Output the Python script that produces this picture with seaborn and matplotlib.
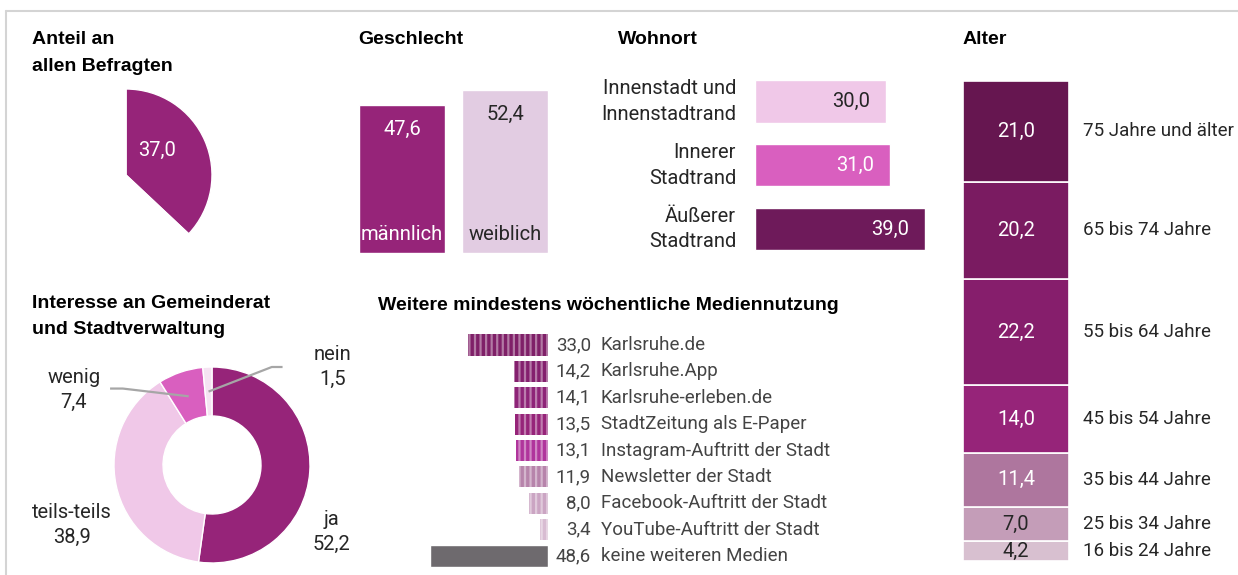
import numpy as np
import matplotlib
matplotlib.use('Agg')
import matplotlib.pyplot as plt
from matplotlib.lines import Line2D
import seaborn as sns

# ---- data ----
anteil = 37.0

geschlecht = ['männlich', 'weiblich']
geschlecht_werte = [47.6, 52.4]

wohnort = ['Innenstadt und\nInnenstadtrand', 'Innerer\nStadtrand', 'Äußerer\nStadtrand']
wohnort_werte = [30.0, 31.0, 39.0]

# from bottom to top of the stack
alter = ['16 bis 24 Jahre', '25 bis 34 Jahre', '35 bis 44 Jahre', '45 bis 54 Jahre',
         '55 bis 64 Jahre', '65 bis 74 Jahre', '75 Jahre und älter']
alter_werte = [4.2, 7.0, 11.4, 14.0, 22.2, 20.2, 21.0]

interesse = ['ja', 'teils-teils', 'wenig', 'nein']
interesse_werte = [52.2, 38.9, 7.4, 1.5]

medien = ['Karlsruhe.de', 'Karlsruhe.App', 'Karlsruhe-erleben.de', 'StadtZeitung als E-Paper',
          'Instagram-Auftritt der Stadt', 'Newsletter der Stadt', 'Facebook-Auftritt der Stadt',
          'YouTube-Auftritt der Stadt', 'keine weiteren Medien']
medien_werte = [33.0, 14.2, 14.1, 13.5, 13.1, 11.9, 8.0, 3.4, 48.6]

# ---- colours ----
lila = '#962479'
c_geschlecht = [lila, '#E2CCE2']
c_wohnort = ['#F0C8E8', '#D95FBF', '#6E1A5A']
c_alter = ['#D8C0D0', '#C49DB8', '#AE769E', '#962479', '#861E6C', '#7A1B61', '#661650']
c_interesse = [lila, '#F0C8E8', '#D95FBF', '#F5E3F2']
c_medien = ['#7F2068', '#84206E', '#8E2478', '#962479', '#B0359C', '#B784AB', '#CBA5C3',
            '#D8BCD2', '#6E6A6E']

sns.set_theme(style='white')
plt.rcParams['font.family'] = ['Roboto', 'DejaVu Sans']
plt.rcParams['hatch.linewidth'] = 1.6

TXT = '#262626'
FS = 14.5      # labels with room
FS_S = 13.5    # Alter and Medien labels
TFS = 14
bold = dict(family=['Liberation Sans', 'DejaVu Sans'], fontweight='bold', fontsize=TFS, color='black')

def fmt(v):
    return f'{v:.1f}'.replace('.', ',')

W, H = 1238, 575
fig = plt.figure(figsize=(W / 100, H / 100), dpi=100)

def px_axes(x0, y0, x1, y1):
    ax = fig.add_axes([x0 / W, 1 - y1 / H, (x1 - x0) / W, (y1 - y0) / H])
    ax.set_axis_off()
    return ax

def title(x, y, s):
    fig.text(x / W, 1 - y / H, s, va='center', ha='left', **bold)

# frame
fig.add_artist(Line2D([6 / W, 1], [1 - 11 / H] * 2, color='#d4d4d4', lw=1.5))
fig.add_artist(Line2D([6 / W] * 2, [0, 1 - 11 / H], color='#d4d4d4', lw=1.5))

# titles
title(32, 40, 'Anteil an')
title(32, 67, 'allen Befragten')
title(358, 40, 'Geschlecht')
title(618, 40, 'Wohnort')
title(963, 40, 'Alter')
title(32, 303, 'Interesse an Gemeinderat')
title(32, 330, 'und Stadtverwaltung')
title(378, 305, 'Weitere mindestens wöchentliche Mediennutzung')

# ---- Anteil an allen Befragten ----
ax = px_axes(40, 89, 212, 261)
ax.pie([anteil, 100 - anteil], colors=[lila, 'none'], startangle=90, counterclock=False)
ax.set_xlim(-1, 1)
ax.set_ylim(-1, 1)
ax.text(0.36, 0.29, fmt(anteil), color='white', fontsize=FS, ha='center', va='center')

# ---- Geschlecht ----
ax = px_axes(350.5, 90, 556.5, 253)
sns.barplot(x=geschlecht, y=geschlecht_werte, hue=geschlecht, palette=c_geschlecht,
            legend=False, width=0.835, saturation=1, ax=ax)
ax.set_ylim(0, max(geschlecht_werte))
ax.set_xlim(-0.5, 1.5)
ax.set_axis_off()
for i, (g, v) in enumerate(zip(geschlecht, geschlecht_werte)):
    col = 'white' if i == 0 else TXT
    ax.annotate(fmt(v), (i, v), xytext=(0, -24), textcoords='offset pixels',
                ha='center', va='center', color=col, fontsize=FS)
    ax.annotate(g, (i, 0), xytext=(0, 18), textcoords='offset pixels',
                ha='center', va='center', color=col, fontsize=FS)

# ---- Wohnort ----
ax = px_axes(755, 69.6, 925, 260.9)
sns.barplot(x=wohnort_werte, y=wohnort, hue=wohnort, palette=c_wohnort, orient='h',
            legend=False, width=0.66, saturation=1, ax=ax)
ax.set_xlim(0, max(wohnort_werte))
ax.set_ylim(2.5, -0.5)
ax.set_axis_off()
for i, (w, v) in enumerate(zip(wohnort, wohnort_werte)):
    ax.annotate(w, (0, i), xytext=(-19, 0), textcoords='offset pixels', ha='right',
                va='center', color=TXT, fontsize=FS, linespacing=1.45)
    ax.annotate(fmt(v), (v, i), xytext=(-16, 0), textcoords='offset pixels', ha='right',
                va='center', color=TXT if i == 0 else 'white', fontsize=FS)

# ---- Alter ----
ax = px_axes(963, 81, 1069, 561)
unten = np.concatenate([[0], np.cumsum(alter_werte)[:-1]])
ax.bar(0, alter_werte, bottom=unten, width=1, color=c_alter, edgecolor='white', linewidth=1.2)
ax.set_xlim(-0.5, 0.5)
ax.set_ylim(0, sum(alter_werte))
ax.set_axis_off()
for i, (a, v, b) in enumerate(zip(alter, alter_werte, unten)):
    ax.text(0, b + v / 2, fmt(v), ha='center', va='center', fontsize=FS,
            color=TXT if i < 2 else 'white')
    ax.annotate(a, (0.5, b + v / 2), xytext=(14, 0), textcoords='offset pixels',
                ha='left', va='center', fontsize=FS_S, color=TXT)

# ---- Interesse ----
ax = px_axes(114, 367, 310, 563)
wedges, _ = ax.pie(interesse_werte, colors=c_interesse, startangle=90, counterclock=False,
                   wedgeprops=dict(width=0.5, edgecolor='white', linewidth=1))
ax.set_xlim(-1, 1)
ax.set_ylim(-1, 1)
lab_pos = {'ja': (1.22, -0.68), 'teils-teils': (-1.43, -0.61),
           'wenig': (-1.41, 0.77), 'nein': (1.23, 1.0)}
for name, v in zip(interesse, interesse_werte):
    x, y = lab_pos[name]
    ax.text(x, y, f'{name}\n{fmt(v)}', ha='center', va='center', fontsize=FS,
            color=TXT, linespacing=1.4)
# leader lines for the small slices
for k, (x0, x1) in zip([2, 3], [(-1.04, -0.91), (0.72, 0.61)]):
    w = wedges[k]
    mid = np.deg2rad((w.theta1 + w.theta2) / 2)
    r = 0.74 if k == 2 else 0.75
    y0 = 0.78 if k == 2 else 1.0
    ax.plot([x0, x1, r * np.cos(mid)], [y0, y0, r * np.sin(mid)], color='#a6a6a6',
            lw=1.6, clip_on=False, solid_capstyle='butt')

# ---- Mediennutzung ----
ax = px_axes(430.4, 331.8, 548, 569.2)
sns.barplot(x=medien_werte, y=medien, hue=medien, palette=c_medien, orient='h',
            legend=False, width=0.8, saturation=1, ax=ax)
ax.set_xlim(max(medien_werte), 0)
ax.set_ylim(len(medien) - 0.5, -0.5)
ax.set_axis_off()
for p, c in zip(ax.patches, c_medien):
    if c != c_medien[-1]:
        light = np.array(matplotlib.colors.to_rgb(c)) * 0.6 + 0.4
        p.set_hatch('|||')
        p.set_edgecolor(light)
        p.set_linewidth(0)
for i, (m, v) in enumerate(zip(medien, medien_werte)):
    ax.annotate(fmt(v), (0, i), xytext=(43, 0), textcoords='offset pixels', ha='right',
                va='center', fontsize=FS_S, color='#444444')
    ax.annotate(m, (0, i), xytext=(53, 0), textcoords='offset pixels', ha='left',
                va='center', fontsize=FS_S, color='#444444')

fig.savefig('out.png', dpi=100)
